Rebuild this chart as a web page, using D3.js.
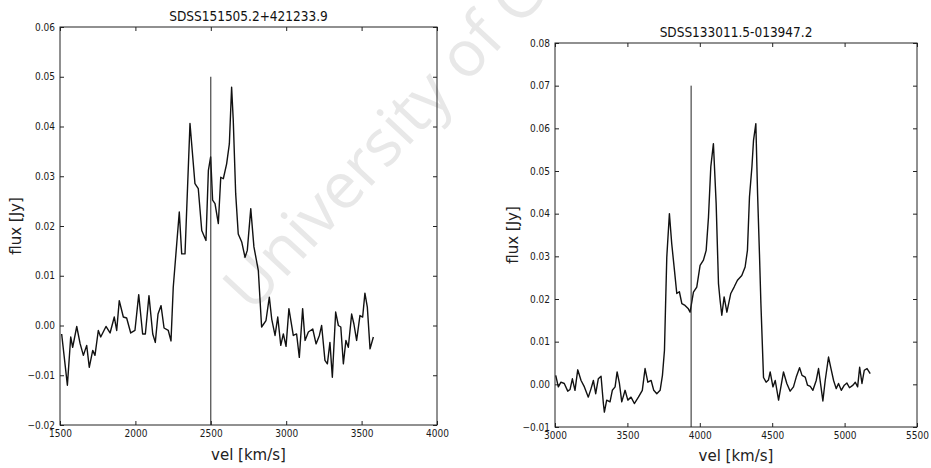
<!DOCTYPE html>
<html>
<head>
<meta charset="utf-8">
<script src="https://cdn.jsdelivr.net/npm/d3@7"></script>
<style>
  body { margin: 0; background: #fff; }
  text { font-family: "DejaVu Sans Condensed", "DejaVu Sans", sans-serif; }
</style>
</head>
<body>
<div id="graph"></div>
<script>
// Two HI line profiles side by side, old matplotlib look (inward ticks on all sides)

const WW = 931, WH = 468

// ---- left panel data ----
const leftTitle = 'SDSS151505.2+421233.9'
const leftVel  = [1511,1549,1571,1584,1611,1633,1655,1677,1694,1717,1732,1754,1770,1805,1832,1860,1876,1893,1920,1942,
                  1969,1997,2022,2048,2066,2090,2115,2132,2150,2170,2190,2218,2236,2251,2274,2291,2307,2329,2362,2395,
                  2417,2440,2468,2484,2499,2512,2528,2550,2566,2583,2605,2623,2638,2649,2665,2682,2705,2727,2742,2765,
                  2786,2815,2837,2866,2888,2904,2926,2944,2964,2981,2999,3018,3047,3069,3087,3109,3125,3147,3176,3198,
                  3220,3235,3257,3273,3290,3306,3328,3346,3362,3379,3396,3412,3434,3449,3467,3489,3507,3522,3538,3556,3578]
const leftFlux = [-0.0017,-0.0120,-0.0023,-0.0044,-0.0002,-0.0036,-0.0060,-0.0040,-0.0084,-0.0050,-0.0060,-0.0010,-0.0023,-0.0002,-0.0015,0.0017,-0.0010,0.0050,0.0017,0.0015,
                  -0.0015,-0.0010,0.0062,-0.0017,-0.0017,0.0060,-0.0017,-0.0034,0.0023,0.0040,-0.0005,-0.0010,-0.0031,0.0077,0.0164,0.0228,0.0144,0.0144,0.0406,0.0285,
                  0.0275,0.0191,0.0171,0.0312,0.0339,0.0252,0.0245,0.0205,0.0298,0.0295,0.0325,0.0365,0.0479,0.0412,0.0265,0.0184,0.0168,0.0137,0.0151,0.0235,
                  0.0158,0.0111,-0.0003,0.0010,0.0057,0.0013,-0.0020,0.0017,-0.0040,-0.0017,-0.0042,0.0034,-0.0020,-0.0017,-0.0064,0.0034,-0.0030,-0.0013,-0.0007,-0.0037,
                  -0.0020,0.0000,-0.0070,-0.0077,-0.0034,-0.0104,0.0027,0.0000,-0.0003,-0.0077,-0.0030,-0.0044,0.0023,0.0003,-0.0030,0.0020,0.0017,0.0065,0.0037,-0.0047,-0.0023]
const leftMark  = [2500, 0.05]   // vertical marker: velocity, top flux
const leftXTicks = [1500, 2000, 2500, 3000, 3500, 4000]
const leftYTicks = [-0.02, -0.01, 0.00, 0.01, 0.02, 0.03, 0.04, 0.05, 0.06]

// ---- right panel data ----
const rightTitle = 'SDSS133011.5-013947.2'
const rightVel  = [3005,3023,3041,3064,3088,3104,3120,3138,3157,3180,3203,3230,3249,3265,3281,3299,3318,3334,3341,3357,
                   3380,3396,3415,3429,3445,3461,3484,3503,3525,3548,3576,3603,3622,3641,3664,3682,3703,3726,3742,3756,
                   3765,3772,3790,3806,3825,3841,3859,3876,3898,3921,3933,3956,3979,4002,4025,4044,4060,4076,4094,4113,
                   4129,4140,4152,4168,4187,4214,4237,4260,4290,4313,4329,4343,4360,4371,4387,4399,4412,4422,4440,4458,
                   4474,4486,4505,4521,4544,4578,4601,4624,4647,4666,4689,4706,4728,4744,4763,4781,4804,4820,4837,4850,
                   4866,4889,4906,4924,4942,4958,4977,4998,5016,5034,5058,5074,5090,5104,5120,5136,5155,5177]
const rightFlux = [0.0021,-0.0006,0.0005,0.0002,-0.0016,-0.0012,0.0013,-0.0014,0.0034,0.0009,-0.0006,-0.0030,-0.0010,0.0009,-0.0022,0.0013,0.0019,-0.0045,-0.0065,-0.0037,
                   -0.0041,-0.0014,-0.0006,0.0029,0.0002,-0.0041,-0.0014,-0.0037,-0.0030,-0.0045,-0.0030,-0.0014,0.0037,0.0005,0.0009,-0.0014,-0.0022,-0.0014,0.0021,0.0080,
                   0.0205,0.0298,0.0400,0.0330,0.0267,0.0213,0.0217,0.0189,0.0185,0.0177,0.0169,0.0216,0.0228,0.0279,0.0291,0.0314,0.0392,0.0510,0.0564,0.0423,
                   0.0236,0.0197,0.0162,0.0205,0.0169,0.0213,0.0228,0.0244,0.0255,0.0275,0.0314,0.0439,0.0510,0.0572,0.0611,0.0447,0.0306,0.0189,0.0016,0.0005,
                   0.0010,0.0029,-0.0006,0.0009,-0.0037,0.0029,0.0002,-0.0016,-0.0006,0.0017,0.0039,0.0021,0.0017,-0.0002,-0.0005,-0.0014,0.0009,0.0037,-0.0006,-0.0039,
                   0.0009,0.0064,0.0037,0.0009,-0.0010,0.0002,-0.0014,-0.0002,0.0003,-0.0008,-0.0002,0.0005,-0.0006,0.0040,0.0002,0.0033,0.0037,0.0025]
const rightMark  = [3940, 0.07]
const rightXTicks = [3000, 3500, 4000, 4500, 5000, 5500]
const rightYTicks = [-0.01, 0.00, 0.01, 0.02, 0.03, 0.04, 0.05, 0.06, 0.07, 0.08]

const xLabel = 'vel [km/s]'
const yLabel = 'flux [Jy]'

const svg = d3.select('#graph').append('svg').attr('width', WW).attr('height', WH)

// faint scan watermark, behind everything (runs off the top edge, as in the scan)
svg.append('text').text('University of Cape Town')
  .attr('transform', 'translate(252,314) rotate(-47)')
  .style('font-family', '"Open Sans", sans-serif').style('font-size', '64px')
  .attr('fill', '#e8e8e8')

panel({ box: [60, 437, 27, 425], vel: leftVel, flux: leftFlux, mark: leftMark,
        xt: leftXTicks, yt: leftYTicks, title: leftTitle, titleY: 21, yLabX: 21, xLabY: 460 })
panel({ box: [555, 917, 43, 427], vel: rightVel, flux: rightFlux, mark: rightMark,
        xt: rightXTicks, yt: rightYTicks, title: rightTitle, titleY: 37, yLabX: 518, xLabY: 461 })

function panel(c) {
  const [x0, x1, y0, y1] = c.box
  const x = d3.scaleLinear(d3.extent(c.xt), [x0, x1])
  const y = d3.scaleLinear(d3.extent(c.yt), [y1, y0])
  const g = svg.append('g')
  const TK = 4  // tick length, pointing inward

  const style = a => a.call(s => s.select('.domain').remove())
    .call(s => s.selectAll('line').attr('stroke', '#222'))
    .call(s => s.selectAll('text').style('font-size', '10px').attr('fill', '#1a1a1a'))

  g.append('g').attr('transform', `translate(0,${y1})`)
    .call(d3.axisBottom(x).tickValues(c.xt).tickSize(-TK).tickPadding(5).tickFormat(d3.format('d'))).call(style)
  g.append('g').attr('transform', `translate(0,${y0})`)
    .call(d3.axisTop(x).tickValues(c.xt).tickSize(-TK).tickFormat('')).call(style)
  g.append('g').attr('transform', `translate(${x0},0)`)
    .call(d3.axisLeft(y).tickValues(c.yt).tickSize(-TK).tickPadding(5).tickFormat(d3.format('.2f'))).call(style)
  g.append('g').attr('transform', `translate(${x1},0)`)
    .call(d3.axisRight(y).tickValues(c.yt).tickSize(-TK).tickFormat('')).call(style)

  g.append('rect').attr('x', x0).attr('y', y0).attr('width', x1 - x0).attr('height', y1 - y0)
    .attr('fill', 'none').attr('stroke', '#222').attr('stroke-width', 1)

  // the spectrum
  g.append('path').datum(d3.zip(c.vel, c.flux))
    .attr('d', d3.line(d => x(d[0]), d => y(d[1])))
    .attr('fill', 'none').attr('stroke', '#111').attr('stroke-width', 1.4).attr('stroke-linejoin', 'round')

  // systemic velocity marker
  g.append('line').attr('x1', x(c.mark[0])).attr('x2', x(c.mark[0]))
    .attr('y1', y1).attr('y2', y(c.mark[1])).attr('stroke', '#222').attr('stroke-width', 1)

  g.append('text').text(c.title).attr('x', (x0 + x1) / 2).attr('y', c.titleY)
    .attr('text-anchor', 'middle').style('font-size', '13.5px').attr('fill', '#111')
  g.append('text').text(xLabel).attr('x', (x0 + x1) / 2).attr('y', c.xLabY)
    .attr('text-anchor', 'middle').style('font-family', '"DejaVu Sans", sans-serif').style('font-size', '15px').attr('fill', '#222')
  g.append('text').text(yLabel).attr('transform', `translate(${c.yLabX},${(y0 + y1) / 2}) rotate(-90)`)
    .attr('text-anchor', 'middle').style('font-family', '"DejaVu Sans", sans-serif').style('font-size', '15px').attr('fill', '#222')
}
</script>
</body>
</html>
